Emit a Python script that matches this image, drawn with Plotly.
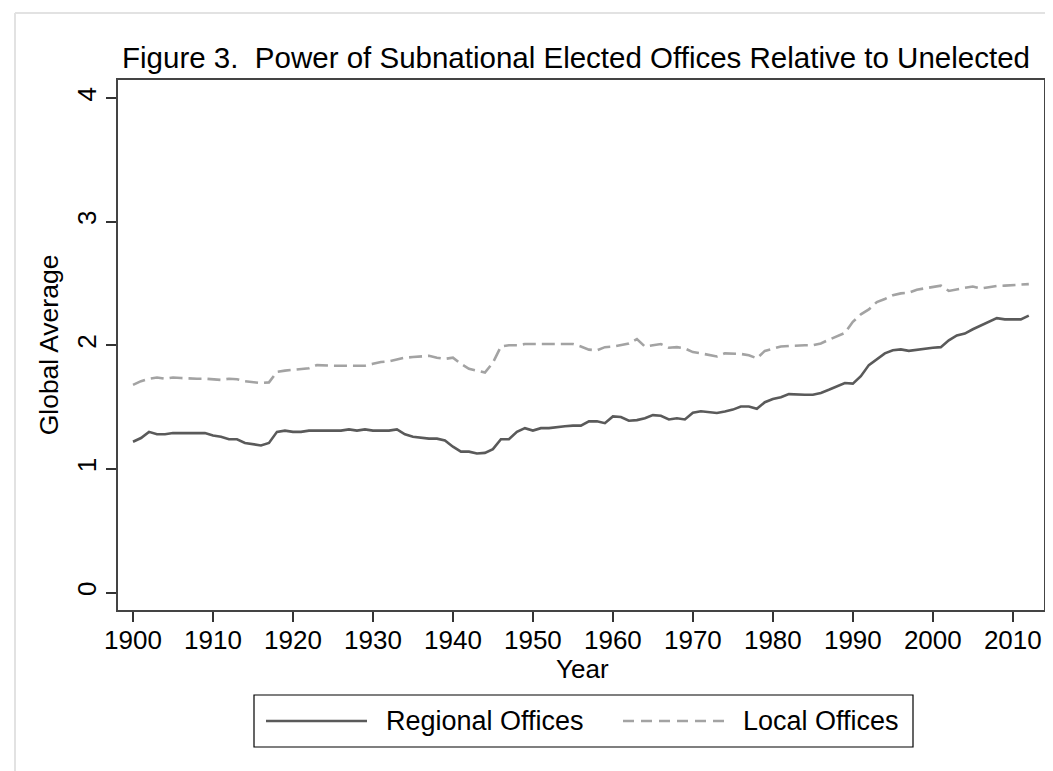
import plotly.graph_objects as go

years = list(range(1900, 2013))

regional = [
    1.22, 1.25, 1.30, 1.28, 1.28, 1.29, 1.29, 1.29, 1.29, 1.29,   # 1900-1909
    1.27, 1.26, 1.24, 1.24, 1.21, 1.20, 1.19, 1.21, 1.30, 1.31,   # 1910-1919
    1.30, 1.30, 1.31, 1.31, 1.31, 1.31, 1.31, 1.32, 1.31, 1.32,   # 1920-1929
    1.31, 1.31, 1.31, 1.32, 1.28, 1.26, 1.25, 1.245, 1.245, 1.23, # 1930-1939
    1.18, 1.14, 1.14, 1.125, 1.13, 1.16, 1.24, 1.24, 1.30, 1.33,  # 1940-1949
    1.31, 1.33, 1.33, 1.34, 1.345, 1.35, 1.35, 1.385, 1.385, 1.37,# 1950-1959
    1.425, 1.42, 1.39, 1.395, 1.41, 1.435, 1.43, 1.40, 1.41, 1.40,# 1960-1969
    1.455, 1.467, 1.46, 1.453, 1.465, 1.48, 1.505, 1.505, 1.486, 1.54, # 1970-1979
    1.565, 1.58, 1.605, 1.60, 1.60, 1.60, 1.615, 1.64, 1.67, 1.695,    # 1980-1989
    1.69, 1.75, 1.84, 1.89, 1.935, 1.96, 1.967, 1.955, 1.965, 1.972,   # 1990-1999
    1.98, 1.985, 2.04, 2.08, 2.095, 2.13, 2.16, 2.19, 2.22, 2.21,      # 2000-2009
    2.21, 2.21, 2.24,                                                  # 2010-2012
]

local = [
    1.68, 1.71, 1.73, 1.74, 1.73, 1.74, 1.735, 1.73, 1.73, 1.73,       # 1900-1909
    1.725, 1.72, 1.73, 1.725, 1.71, 1.70, 1.695, 1.70, 1.785, 1.795,   # 1910-1919
    1.80, 1.81, 1.815, 1.84, 1.835, 1.835, 1.835, 1.835, 1.835, 1.835, # 1920-1929
    1.85, 1.865, 1.87, 1.885, 1.90, 1.905, 1.91, 1.915, 1.90, 1.89,    # 1930-1939
    1.90, 1.85, 1.81, 1.795, 1.78, 1.86, 1.99, 2.00, 2.00, 2.01,       # 1940-1949
    2.01, 2.01, 2.01, 2.005, 2.01, 2.01, 1.99, 1.965, 1.96, 1.985,     # 1950-1959
    1.99, 2.00, 2.015, 2.05, 1.99, 2.00, 2.01, 1.98, 1.985, 1.975,     # 1960-1969
    1.945, 1.935, 1.925, 1.91, 1.935, 1.935, 1.93, 1.92, 1.895, 1.955, # 1970-1979
    1.975, 1.99, 1.995, 2.00, 2.00, 2.00, 2.015, 2.045, 2.07, 2.10,    # 1980-1989
    2.19, 2.25, 2.29, 2.35, 2.375, 2.405, 2.42, 2.425, 2.45, 2.46,     # 1990-1999
    2.47, 2.483, 2.44, 2.455, 2.465, 2.475, 2.46, 2.47, 2.48, 2.483,   # 2000-2009
    2.487, 2.49, 2.495,                                                # 2010-2012
]

x_ticks = list(range(1900, 2011, 10))
y_ticks = [0, 1, 2, 3, 4]
series_names = ["Regional Offices", "Local Offices"]
x_title = "Year"

REG_COLOR = "#5a5a5a"
LOC_COLOR = "#a3a3a3"
FONT = "Liberation Sans, Arial, sans-serif"

fig = go.Figure()
fig.add_trace(go.Scatter(x=years, y=regional, mode="lines", name=series_names[0],
                         line=dict(color=REG_COLOR, width=2.6), showlegend=False))
fig.add_trace(go.Scatter(x=years, y=local, mode="lines", name=series_names[1],
                         line=dict(color=LOC_COLOR, width=2.6, dash="13px,6px"),
                         showlegend=False))

fig.update_layout(
    width=1053, height=771,
    margin=dict(l=110, r=17, t=72, b=169),
    paper_bgcolor="white", plot_bgcolor="white",
    font=dict(family=FONT, color="black", size=26),
    title=dict(text="Figure 3.  Power of Subnational Elected Offices Relative to Unelected",
               x=568 / 1053, xanchor="center", y=1 - 50 / 771, yanchor="middle",
               font=dict(size=29.5, family=FONT, color="black")),
    xaxis=dict(range=[1898.125, 2013.9], tickvals=x_ticks, ticks="outside", ticklen=10,
               tickwidth=1.5, tickcolor="#333", showline=True, linecolor="#444", linewidth=1.5,
               mirror=True, showgrid=False, zeroline=False, ticklabelstandoff=-4,
               tickfont=dict(size=26)),
    yaxis=dict(range=[-0.141, 4.146], tickvals=y_ticks, ticks="outside", ticklen=10,
               tickwidth=1.5, tickcolor="#333", showline=True, linecolor="#444", linewidth=1.5,
               mirror=True, showgrid=False, zeroline=False, tickangle=-90,
               tickfont=dict(size=26),
               title=dict(text="Global Average", font=dict(size=26.5), standoff=6)),
)

# Legend drawn manually (Stata-style box with long line samples)
pw, ph = 926.0, 530.0
def px(xp):
    return (xp - 110) / pw
def py(yp):
    return (602 - yp) / ph

shapes = [
    dict(type="rect", xref="paper", yref="paper", x0=px(246), x1=px(905), y0=py(739), y1=py(687),
         line=dict(color="black", width=1.2), fillcolor="white"),
    dict(type="line", xref="paper", yref="paper", x0=px(258), x1=px(359), y0=py(713), y1=py(713),
         line=dict(color=REG_COLOR, width=2.6)),
    dict(type="line", xref="paper", yref="paper", x0=px(615), x1=px(716), y0=py(713), y1=py(713),
         line=dict(color=LOC_COLOR, width=2.6, dash="11px,7px")),
    # light outer border (left and top)
    dict(type="line", xref="paper", yref="paper", x0=px(7), x1=px(7), y0=py(5), y1=py(771),
         line=dict(color="#e2e2e2", width=2)),
    dict(type="line", xref="paper", yref="paper", x0=px(7), x1=px(1053), y0=py(5), y1=py(5),
         line=dict(color="#e2e2e2", width=2)),
]
fig.update_layout(shapes=shapes)
# x-axis title placed close under the tick labels, as in the original
fig.add_annotation(xref="paper", yref="paper", x=px(574), y=py(661), xanchor="center", yanchor="middle",
                   text=x_title, showarrow=False, font=dict(size=26, family=FONT, color="black"))
fig.add_annotation(xref="paper", yref="paper", x=px(376), y=py(713), xanchor="left", yanchor="middle",
                   text=series_names[0], showarrow=False, font=dict(size=27, family=FONT, color="black"))
fig.add_annotation(xref="paper", yref="paper", x=px(733), y=py(713), xanchor="left", yanchor="middle",
                   text=series_names[1], showarrow=False, font=dict(size=27, family=FONT, color="black"))

fig.write_html("out.html")
